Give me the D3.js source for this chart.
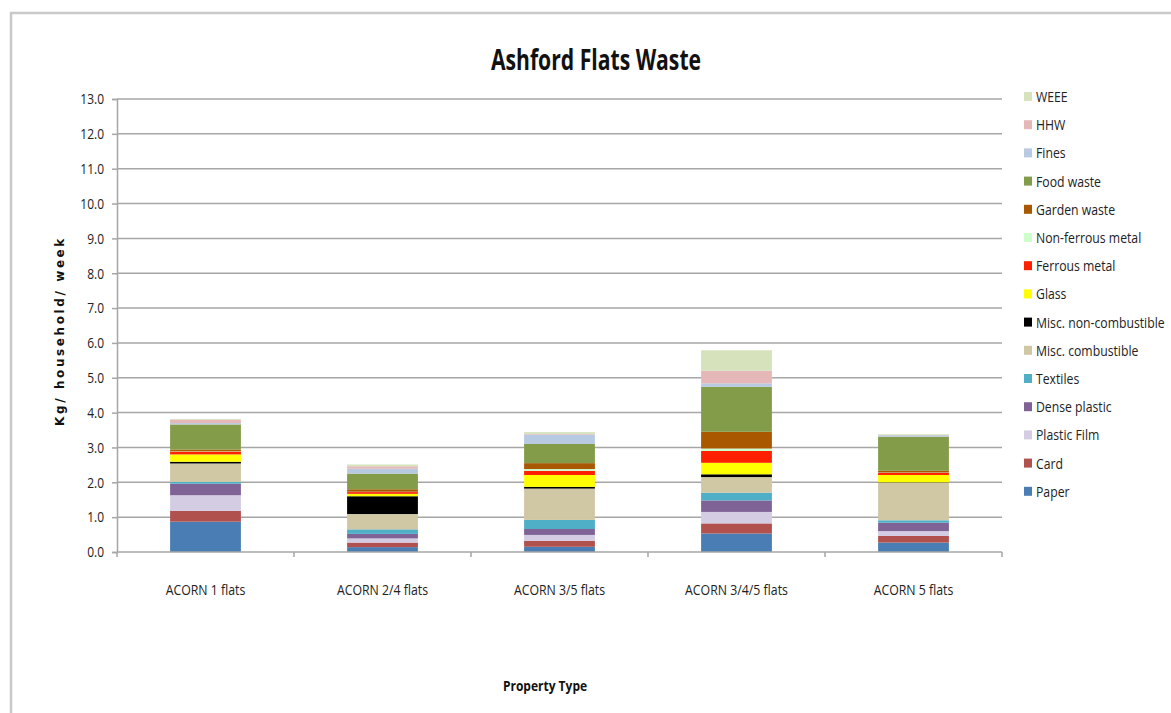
<!DOCTYPE html>
<html>
<head>
<meta charset="utf-8">
<script src="https://cdn.jsdelivr.net/npm/d3@7"></script>
<style>
  html, body { margin: 0; padding: 0; background: #fff; }
  svg { display: block; }
  .narrow { font-family: "Open Sans", "Noto Sans", sans-serif; }
</style>
</head>
<body>
<svg id="chart" width="1171" height="713"></svg>
<script>
// Property types along the x axis
const categories = ["ACORN 1 flats", "ACORN 2/4 flats", "ACORN 3/5 flats", "ACORN 3/4/5 flats", "ACORN 5 flats"];

// Waste streams, bottom of the stack first
const seriesNames = ["Paper", "Card", "Plastic Film", "Dense plastic", "Textiles", "Misc. combustible",
  "Misc. non-combustible", "Glass", "Ferrous metal", "Non-ferrous metal", "Garden waste",
  "Food waste", "Fines", "HHW", "WEEE"];
const seriesColors = ["#4a7db3", "#b0514d", "#d3cce3", "#7f6397", "#4eafc7", "#d0c7a5",
  "#000000", "#ffff00", "#ff2000", "#ccffcc", "#aa5800",
  "#839c49", "#b8c9e2", "#e5b8b7", "#d5e2bc"];

// kg per household per week, one value per category
const paper        = [0.87, 0.14, 0.15, 0.53, 0.27];
const card         = [0.31, 0.13, 0.17, 0.29, 0.19];
const plasticFilm  = [0.45, 0.12, 0.17, 0.33, 0.14];
const densePlastic = [0.33, 0.13, 0.17, 0.33, 0.24];
const textiles     = [0.05, 0.13, 0.26, 0.22, 0.07];
const miscComb     = [0.53, 0.44, 0.90, 0.45, 1.08];
const miscNonComb  = [0.05, 0.51, 0.05, 0.08, 0.01];
const glass        = [0.21, 0.07, 0.34, 0.33, 0.21];
const ferrous      = [0.08, 0.05, 0.12, 0.34, 0.06];
const nonFerrous   = [0.01, 0.01, 0.05, 0.07, 0.01];
const garden       = [0.05, 0.07, 0.17, 0.48, 0.05];
const food         = [0.72, 0.45, 0.55, 1.29, 0.98];
const fines        = [0.04, 0.14, 0.27, 0.10, 0.04];
const hhw          = [0.10, 0.07, 0.02, 0.36, 0.01];
const weee         = [0.02, 0.05, 0.05, 0.59, 0.02];

const yTickValues = d3.range(0, 13.001, 1);

const seriesValues = [paper, card, plasticFilm, densePlastic, textiles, miscComb, miscNonComb,
  glass, ferrous, nonFerrous, garden, food, fines, hhw, weee];

// Table of rows for d3.stack
const rows = categories.map((c, i) => {
  const r = { category: c };
  seriesNames.forEach((s, k) => { r[s] = seriesValues[k][i]; });
  return r;
});

// Squeeze a text horizontally to give it a condensed look
function condense(sel, factor) {
  sel.each(function () {
    const w = this.getComputedTextLength();
    d3.select(this).attr("textLength", w * factor).attr("lengthAdjust", "spacingAndGlyphs");
  });
}

const svg = d3.select("#chart");
const margin = { left: 117, right: 1002, top: 99, bottom: 552 };

// Outer chart frame
svg.append("path")
  .attr("d", "M11,713 L11,13 L1171,13")
  .attr("fill", "none")
  .attr("stroke", "#c9c9c9")
  .attr("stroke-width", 2.5);

const x = d3.scaleBand().domain(categories).range([margin.left, margin.right]).paddingInner(0.6).paddingOuter(0.3);
const y = d3.scaleLinear().domain([0, 13]).range([margin.bottom, margin.top]);

// Horizontal gridlines
svg.append("g")
  .selectAll("line")
  .data(yTickValues.filter(v => v > 0))
  .join("line")
  .attr("x1", margin.left).attr("x2", margin.right)
  .attr("y1", d => y(d)).attr("y2", d => y(d))
  .attr("stroke", "#a6a6a6").attr("stroke-width", 1.5);

// Stacked bars
const stack = d3.stack().keys(seriesNames)(rows);
const color = d3.scaleOrdinal().domain(seriesNames).range(seriesColors);

svg.append("g")
  .selectAll("g")
  .data(stack)
  .join("g")
  .attr("fill", d => color(d.key))
  .selectAll("rect")
  .data(d => d)
  .join("rect")
  .attr("x", d => x(d.data.category))
  .attr("width", x.bandwidth())
  .attr("y", d => y(d[1]))
  .attr("height", d => Math.max(0, y(d[0]) - y(d[1])));

// Y axis
const yAxis = svg.append("g")
  .attr("transform", `translate(${margin.left},0)`)
  .call(d3.axisLeft(y).tickValues(yTickValues).tickFormat(d3.format(".1f")).tickSize(5).tickPadding(8));
yAxis.select(".domain").attr("stroke", "#a6a6a6").attr("stroke-width", 1.5);
yAxis.selectAll(".tick line").attr("stroke", "#a6a6a6").attr("stroke-width", 1.5);
yAxis.selectAll("text").attr("class", "narrow").attr("font-size", 15).attr("fill", "#222");
condense(yAxis.selectAll("text"), 0.8);

// X axis with boundary ticks between categories
const xLine = svg.append("g");
xLine.append("line")
  .attr("x1", margin.left).attr("x2", margin.right)
  .attr("y1", margin.bottom).attr("y2", margin.bottom)
  .attr("stroke", "#a6a6a6").attr("stroke-width", 1.5);
xLine.selectAll("line.b")
  .data(d3.range(categories.length + 1))
  .join("line")
  .attr("class", "b")
  .attr("x1", i => margin.left + i * (margin.right - margin.left) / categories.length)
  .attr("x2", i => margin.left + i * (margin.right - margin.left) / categories.length)
  .attr("y1", margin.bottom).attr("y2", margin.bottom + 5)
  .attr("stroke", "#a6a6a6").attr("stroke-width", 1.5);

const xLabels = svg.append("g")
  .selectAll("text")
  .data(categories)
  .join("text")
  .attr("class", "narrow")
  .attr("x", d => x(d) + x.bandwidth() / 2)
  .attr("y", 595)
  .attr("text-anchor", "middle")
  .attr("font-size", 15)
  .attr("fill", "#222")
  .text(d => d);
condense(xLabels, 0.82);

// Titles
const title = svg.append("text")
  .attr("class", "narrow")
  .attr("x", 596).attr("y", 70)
  .attr("text-anchor", "middle")
  .attr("font-size", 28).attr("font-weight", "bold")
  .attr("fill", "#111")
  .text("Ashford Flats Waste");
condense(title, 0.755);

const xTitle = svg.append("text")
  .attr("class", "narrow")
  .attr("x", 545).attr("y", 691)
  .attr("text-anchor", "middle")
  .attr("font-size", 15).attr("font-weight", "bold")
  .attr("fill", "#111")
  .text("Property Type");
condense(xTitle, 0.8);

svg.append("text")
  .attr("transform", "translate(64,331) rotate(-90)")
  .attr("text-anchor", "middle")
  .attr("font-family", "DejaVu Sans, Verdana, sans-serif")
  .attr("font-size", 12).attr("font-weight", "bold")
  .attr("letter-spacing", 2.6)
  .attr("fill", "#111")
  .text("Kg/ household/ week");

// Legend, top entry is the last series
const legendItems = seriesNames.slice().reverse();
const legend = svg.append("g")
  .selectAll("g")
  .data(legendItems)
  .join("g")
  .attr("transform", (d, i) => `translate(1024,${97 + i * 28.2})`);
legend.append("rect")
  .attr("x", 0).attr("y", -5)
  .attr("width", 8).attr("height", 9)
  .attr("fill", d => color(d));
const legendText = legend.append("text")
  .attr("class", "narrow")
  .attr("x", 12).attr("y", 5)
  .attr("font-size", 15)
  .attr("fill", "#222")
  .text(d => d);
condense(legendText, 0.815);
</script>
</body>
</html>
